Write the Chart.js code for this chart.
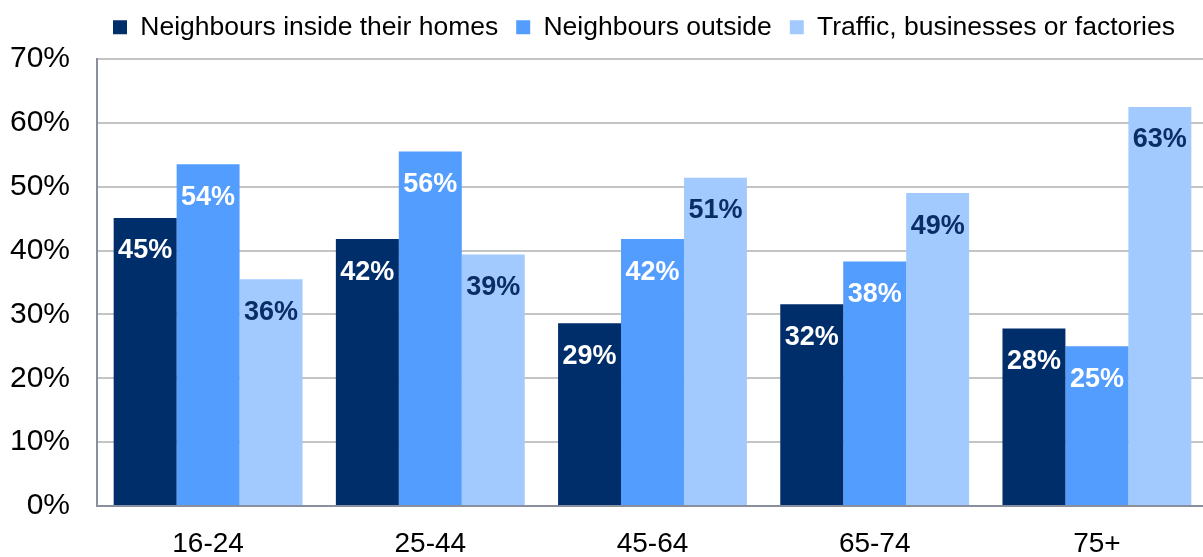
<!DOCTYPE html>
<html>
<head>
<meta charset="utf-8">
<script src="https://cdn.jsdelivr.net/npm/chart.js@4/dist/chart.umd.min.js"></script>
<style>
  html, body { margin: 0; padding: 0; background: #fff; overflow: hidden; }
  #wrap { width: 1208px; height: 557px; }
</style>
</head>
<body>
<div id="wrap"><canvas id="chart"></canvas></div>
<script>
const categories = ["16-24", "25-44", "45-64", "65-74", "75+"];
const insideHomes = [45.1, 41.8, 28.6, 31.6, 27.8];
const outside = [53.5, 55.5, 41.8, 38.3, 25.0];
const traffic = [35.5, 39.4, 51.4, 49.0, 62.5];
const seriesNames = ["Neighbours inside their homes", "Neighbours outside", "Traffic, businesses or factories"];
const yTicks = [0, 10, 20, 30, 40, 50, 60, 70];

const FONT = "'Liberation Sans', Arial, sans-serif";

// value labels inside the top of each bar
const barLabels = {
    id: "barLabels",
    afterDatasetsDraw(chart) {
        const ctx = chart.ctx;
        ctx.save();
        ctx.font = "bold 27px " + FONT;
        ctx.textAlign = "center";
        ctx.textBaseline = "middle";
        chart.data.datasets.forEach((ds, i) => {
            const meta = chart.getDatasetMeta(i);
            ctx.fillStyle = i === 2 ? "#0b2d66" : "#ffffff";
            meta.data.forEach((bar, j) => {
                ctx.fillText(Math.round(ds.data[j]) + "%", bar.x, bar.y + 33);
            });
        });
        ctx.restore();
    },
};

// legend: fixed height, row shifted to where the original one starts
const legendFix = {
    id: "legendFix",
    afterInit(chart) {
        const lg = chart.legend;
        if (!lg) return;
        const fit = lg.fit;
        lg.fit = function () {
            fit.call(this);
            this.height = 63;
        };
    },
    afterLayout(chart) {
        if (!chart.legend) return;
        chart.legend.left = 95;
        chart.legend.right = 1400;
    },
};

new Chart(document.getElementById("chart"), {
    type: "bar",
    data: {
        labels: categories,
        datasets: [
            { label: seriesNames[0], data: insideHomes, backgroundColor: "#002E6B" },
            { label: seriesNames[1], data: outside, backgroundColor: "#539DFF" },
            { label: seriesNames[2], data: traffic, backgroundColor: "#A3CAFF" },
        ],
    },
    options: {
        responsive: true,
        maintainAspectRatio: false,
        animation: false,
        datasets: { bar: { categoryPercentage: 0.85, barPercentage: 1.0 } },
        layout: { padding: { top: -4, left: 0, right: 0, bottom: 0 } },
        plugins: {
            tooltip: { enabled: false },
            legend: {
                position: "top",
                align: "start",
                labels: {
                    font: { family: FONT, size: 26.5 },
                    color: "#000",
                    boxWidth: 14,
                    boxHeight: 14,
                    padding: 18,
                },
            },
        },
        scales: {
            x: {
                afterFit: (s) => { s.height = 51; },
                grid: { display: false },
                border: { color: "#8a8fa0", width: 2 },
                ticks: { font: { family: FONT, size: 28 }, color: "#000", padding: 13 },
            },
            y: {
                min: 0,
                max: 70,
                afterBuildTicks: (s) => { s.ticks = yTicks.map((v) => ({ value: v })); },
                afterFit: (s) => { s.width = 97; },
                grid: { color: "#c4c4c4", lineWidth: 2, drawTicks: false },
                border: { color: "#8a8fa0", width: 2 },
                ticks: {
                    font: { family: FONT, size: 30 },
                    color: "#000",
                    padding: 27,
                    callback: (v) => v + "%",
                },
            },
        },
    },
    plugins: [barLabels, legendFix],
});
</script>
</body>
</html>
